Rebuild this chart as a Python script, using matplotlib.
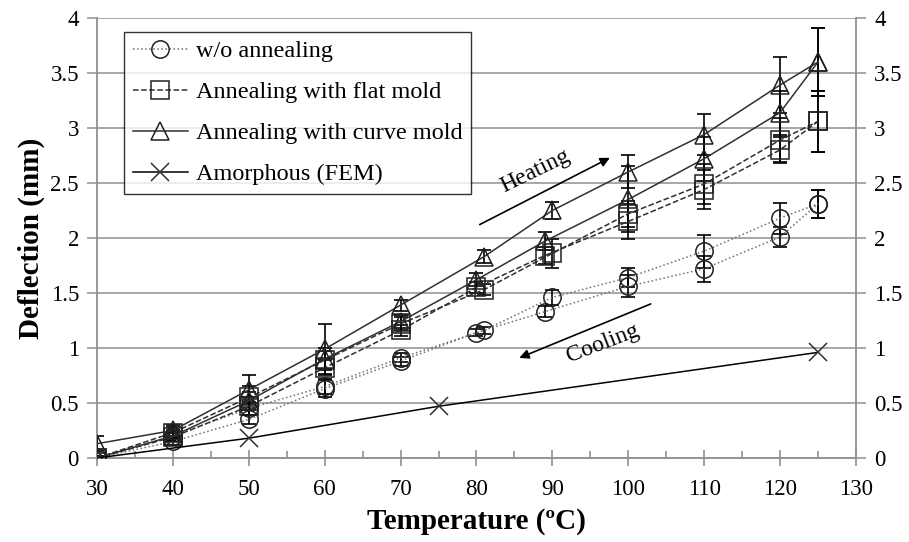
import matplotlib
matplotlib.use("Agg")
import matplotlib.pyplot as plt
from matplotlib.ticker import MultipleLocator

plt.rcParams["font.family"] = ["Liberation Serif", "DejaVu Serif"]

# ---- data ----
# each sample has two runs (heating / cooling), x positions differ a bit at 80/90
temp_a = [30, 40, 50, 60, 70, 81, 90, 100, 110, 120, 125]
temp_b = [30, 40, 50, 60, 70, 80, 89, 100, 110, 120, 125]

# w/o annealing
plain_a = [0, 0.20, 0.45, 0.65, 0.91, 1.16, 1.46, 1.64, 1.88, 2.18, 2.31]
plain_a_err = [0.02, 0.04, 0.06, 0.07, 0.04, 0.03, 0.07, 0.09, 0.15, 0.14, 0.13]
plain_b = [0, 0.15, 0.35, 0.63, 0.88, 1.14, 1.33, 1.56, 1.72, 2.01, 2.31]
plain_b_err = [0.02, 0.03, 0.04, 0.08, 0.04, 0.03, 0.05, 0.10, 0.12, 0.09, 0.13]

# annealing with flat mold
flat_a = [0, 0.23, 0.55, 0.89, 1.22, 1.53, 1.86, 2.22, 2.49, 2.89, 3.06]
flat_a_err = [0.02, 0.05, 0.10, 0.08, 0.06, 0.05, 0.13, 0.12, 0.18, 0.20, 0.28]
flat_b = [0, 0.19, 0.47, 0.82, 1.16, 1.55, 1.84, 2.15, 2.44, 2.80, 3.06]
flat_b_err = [0.02, 0.04, 0.08, 0.07, 0.05, 0.05, 0.08, 0.16, 0.18, 0.12, 0.28]

# annealing with curve mold
curve_a = [0.13, 0.25, 0.62, 0.99, 1.39, 1.83, 2.25, 2.60, 2.94, 3.39, 3.60]
curve_a_err = [0.07, 0.05, 0.13, 0.23, 0.05, 0.06, 0.08, 0.15, 0.19, 0.25, 0.31]
curve_b = [0, 0.20, 0.52, 0.90, 1.24, 1.62, 1.97, 2.35, 2.72, 3.14, 3.60]
curve_b_err = [0.02, 0.05, 0.08, 0.10, 0.06, 0.06, 0.08, 0.30, 0.20, 0.20, 0.31]

# amorphous FEM
fem_temp = [30, 50, 75, 125]
fem_defl = [0, 0.18, 0.47, 0.96]

fig = plt.figure(figsize=(9.09, 5.42), dpi=100)
ax = fig.add_axes([0.1067, 0.155, 0.835, 0.812])

fs = 16.5
series = [
    ("w/o annealing", "o", ":", "#707070", plain_a, plain_a_err, plain_b, plain_b_err),
    ("Annealing with flat mold", "s", "--", "#303030", flat_a, flat_a_err, flat_b, flat_b_err),
    ("Annealing with curve mold", "^", "-", "#303030", curve_a, curve_a_err, curve_b, curve_b_err),
]

for name, mk, ls, col, ya, ea, yb, eb in series:
    for xs, ys, es, lab in [(temp_a, ya, ea, name), (temp_b, yb, eb, None)]:
        ax.errorbar(xs, ys, yerr=es, fmt="none", ecolor="black",
                    elinewidth=1.2, capsize=5, capthick=1.2, zorder=3)
        ax.plot(xs, ys, linestyle=ls, color=col, lw=1.1, marker=mk,
                ms=12.5, mfc="none", mec="#202020", mew=1.1, label=lab, zorder=4)

ax.plot(fem_temp, fem_defl, "-", color="black", lw=1.1, marker="x",
        ms=13, mew=1.1, mec="#303030", label="Amorphous (FEM)", zorder=4)

# arrows + notes
ax.annotate("", xy=(97.9, 2.74), xytext=(80.1, 2.11),
            arrowprops=dict(arrowstyle="-|>", lw=1.2, color="black", mutation_scale=14))
ax.annotate("", xy=(85.3, 0.90), xytext=(103.3, 1.41),
            arrowprops=dict(arrowstyle="-|>", lw=1.2, color="black", mutation_scale=14))
ax.text(87.8, 2.61, "Heating", fontsize=17, rotation=26, ha="center", va="center")
ax.text(96.7, 1.04, "Cooling", fontsize=17, rotation=21, ha="center", va="center")

ax.set_xlim(30, 130)
ax.set_ylim(0, 4)
ax.xaxis.set_major_locator(MultipleLocator(10))
ax.xaxis.set_minor_locator(MultipleLocator(5))
ax.yaxis.set_major_locator(MultipleLocator(0.5))
ax.yaxis.set_major_formatter(plt.FuncFormatter(lambda v, p: f"{v:g}"))

ax.grid(axis="y", color="#a0a0a0", lw=1.3)
ax.set_axisbelow(True)
for side in ["left", "right", "bottom"]:
    ax.spines[side].set_color("#909090")
    ax.spines[side].set_linewidth(1.3)
ax.spines["top"].set_visible(False)

ax.tick_params(axis="x", which="major", direction="inout", length=12,
               width=1.2, color="#909090", labelsize=fs, pad=9)
ax.tick_params(axis="x", which="minor", direction="in", length=5,
               width=1.2, color="#909090")
ax.tick_params(axis="y", direction="out", length=7, width=1.3, color="#a0a0a0",
               labelsize=fs, right=True, labelright=True, pad=6)

ax.set_xlabel("Temperature (ºC)", fontsize=21, fontweight="bold", labelpad=6)
ax.set_ylabel("Deflection (mm)", fontsize=21, fontweight="bold", labelpad=4)

leg = ax.legend(loc="upper left", bbox_to_anchor=(0.0356, 0.968), borderaxespad=0,
                fontsize=17.5, frameon=True, fancybox=False, edgecolor="black",
                handlelength=2.3, handletextpad=0.3, labelspacing=0.78, borderpad=0.35)
leg.get_frame().set_linewidth(1.0)

fig.savefig("out.png", dpi=100)
